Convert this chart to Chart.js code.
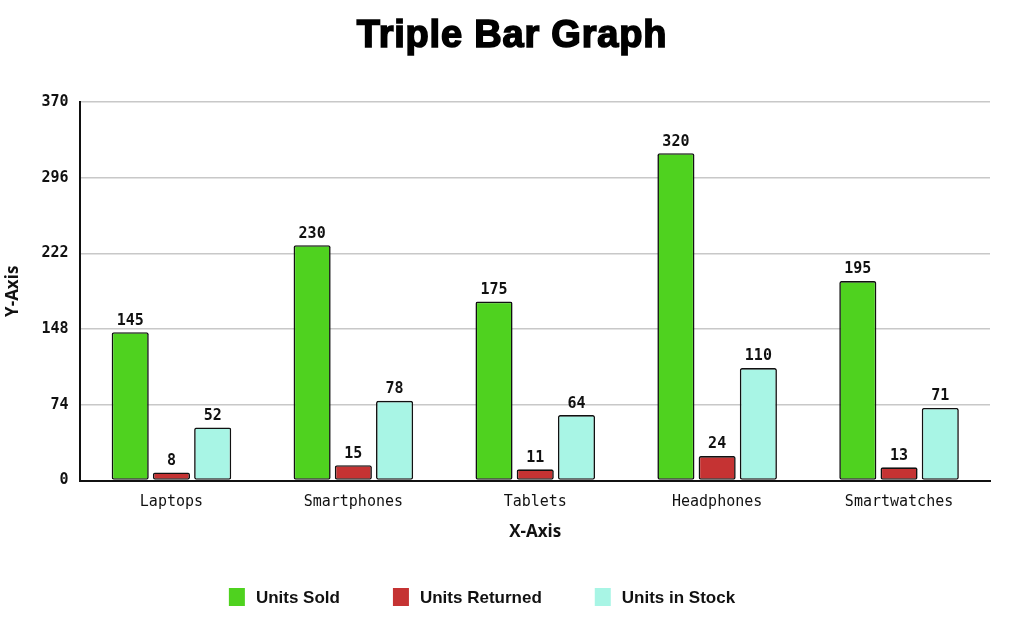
<!DOCTYPE html>
<html>
<head>
<meta charset="utf-8">
<script src="https://cdn.jsdelivr.net/npm/chart.js@4/dist/chart.umd.min.js"></script>
<style>
    html, body { margin: 0; padding: 0; background: #fff; }
    #wrap { width: 1024px; height: 626px; }
</style>
</head>
<body>
<div id="wrap"><canvas id="grafica"></canvas></div>
<script>
// DATOS DE LA GRAFICA
var categorias = ["Laptops", "Smartphones", "Tablets", "Headphones", "Smartwatches"];
var unidadesVendidas = [145, 230, 175, 320, 195];
var unidadesDevueltas = [8, 15, 11, 24, 13];
var unidadesStock = [52, 78, 64, 110, 71];
var ticksY = [0, 74, 148, 222, 296, 370];
var titulo = "Triple Bar Graph";

//PLUGIN PARA ESCRIBIR EL VALOR ENCIMA DE CADA BARRA
var etiquetasBarras = {
    id: "etiquetasBarras",
    afterDatasetsDraw: function (chart) {
        var ctx = chart.ctx;
        ctx.save();
        ctx.font = "bold 15px 'DejaVu Sans Mono'";
        ctx.fillStyle = "#111";
        ctx.textAlign = "center";
        ctx.textBaseline = "bottom";
        chart.data.datasets.forEach(function (ds, i) {
            chart.getDatasetMeta(i).data.forEach(function (bar, j) {
                ctx.fillText(ds.data[j], bar.x, bar.y - 4);
            });
        });
        ctx.restore();
    }
};

//PLUGIN PARA EL TITULO (CENTRADO EN EL CANVAS Y MAS GRUESO)
var tituloGrueso = {
    id: "tituloGrueso",
    afterDraw: function (chart) {
        var ctx = chart.ctx;
        ctx.save();
        ctx.font = "bold 38px 'Liberation Sans'";
        ctx.letterSpacing = "0.8px";
        ctx.fillStyle = "#000";
        ctx.strokeStyle = "#000";
        ctx.lineWidth = 1.6;
        ctx.lineJoin = "miter";
        ctx.textAlign = "center";
        ctx.textBaseline = "middle";
        ctx.strokeText(titulo, chart.width / 2, 37);
        ctx.fillText(titulo, chart.width / 2, 37);
        ctx.restore();
    }
};

//PLUGIN PARA DIBUJAR LA LEYENDA ABAJO (CUADROS SIN BORDE Y MAS SEPARADOS)
var leyendaAbajo = {
    id: "leyendaAbajo",
    afterDraw: function (chart) {
        var ctx = chart.ctx;
        var caja = 16, alto = 18, espacioTexto = 11, separacion = 53;
        var centroX = 482, centroY = 597;
        ctx.save();
        ctx.font = "bold 17px 'Liberation Sans'";
        var anchos = chart.data.datasets.map(function (ds) {
            return caja + espacioTexto + ctx.measureText(ds.label).width;
        });
        var total = anchos.reduce(function (a, b) { return a + b; }, 0) + separacion * (anchos.length - 1);
        var x = centroX - total / 2;
        chart.data.datasets.forEach(function (ds, i) {
            ctx.fillStyle = ds.backgroundColor;
            ctx.fillRect(x, centroY - alto / 2, caja, alto);
            ctx.fillStyle = "#111";
            ctx.textAlign = "left";
            ctx.textBaseline = "middle";
            ctx.fillText(ds.label, x + caja + espacioTexto, centroY + 1);
            x += anchos[i] + separacion;
        });
        ctx.restore();
    }
};

var ctx = document.getElementById("grafica").getContext("2d");
new Chart(ctx, {
    type: "bar",
    data: {
        labels: categorias,
        datasets: [
            { label: "Units Sold", data: unidadesVendidas, backgroundColor: "#4fd21f" },
            { label: "Units Returned", data: unidadesDevueltas, backgroundColor: "#c53333" },
            { label: "Units in Stock", data: unidadesStock, backgroundColor: "#a8f5e5" }
        ]
    },
    options: {
        responsive: true,
        maintainAspectRatio: false,
        animation: false,
        datasets: {
            bar: {
                categoryPercentage: 0.68,
                barPercentage: 0.9,
                borderColor: "#111",
                borderWidth: 1.6,
                borderRadius: 2,
                borderSkipped: false
            }
        },
        layout: { padding: { top: 102, right: 34, left: 3, bottom: 84 } },
        plugins: {
            title: { display: false },
            legend: { display: false },
            tooltip: { enabled: false }
        },
        scales: {
            x: {
                grid: { display: false },
                border: { color: "#111", width: 2 },
                ticks: {
                    color: "#111",
                    padding: 5,
                    font: { family: "'DejaVu Sans Mono'", size: 15 }
                },
                title: {
                    display: true,
                    text: "X-Axis",
                    color: "#111",
                    padding: { top: 5, bottom: 0 },
                    font: { family: "'Open Sans'", size: 17, weight: "bold" }
                }
            },
            y: {
                min: 0,
                max: 370,
                afterBuildTicks: function (axis) {
                    axis.ticks = ticksY.map(function (v) { return { value: v }; });
                },
                grid: { color: "#c8c8c8", lineWidth: 1.5, drawTicks: false },
                border: { color: "#111", width: 2 },
                ticks: {
                    color: "#111",
                    padding: 12,
                    font: { family: "'DejaVu Sans Mono'", size: 15, weight: "bold" }
                },
                title: {
                    display: true,
                    text: "Y-Axis",
                    color: "#111",
                    padding: { top: 0, bottom: 6 },
                    font: { family: "'Open Sans'", size: 17, weight: "bold" }
                }
            }
        }
    },
    plugins: [etiquetasBarras, tituloGrueso, leyendaAbajo]
});
</script>
</body>
</html>
